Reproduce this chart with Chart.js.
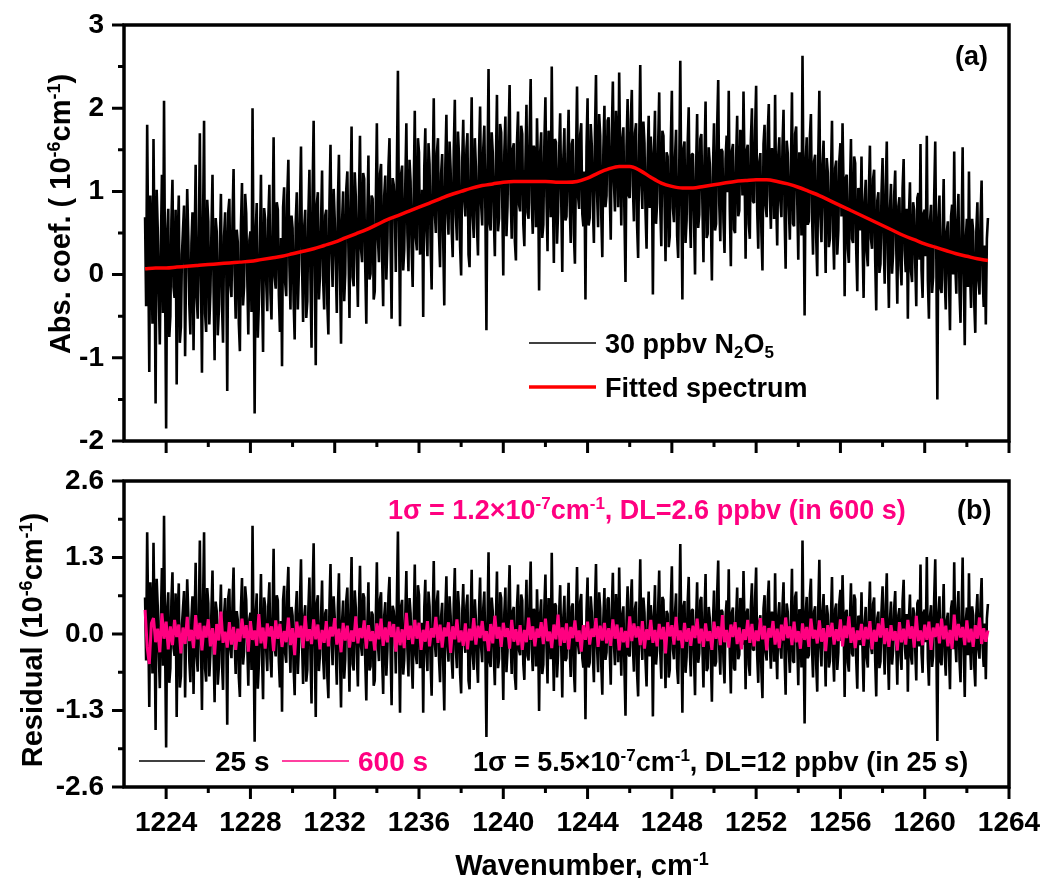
<!DOCTYPE html>
<html>
<head>
<meta charset="utf-8">
<script src="https://cdn.jsdelivr.net/npm/chart.js@4.4.1/dist/chart.umd.min.js"></script>
<style>
  body { margin: 0; background: #fff; }
  #wrap { position: relative; width: 1047px; height: 878px; }
  #wrap canvas { position: absolute; left: 0; }
</style>
</head>
<body>
<div id="wrap">
  <canvas id="specChart" width="1047" height="455" style="top:0"></canvas>
  <canvas id="residChart" width="1047" height="423" style="top:455px"></canvas>
</div>
<script>
// sampling grids (cm-1): measured spectrum / 25 s residual, 600 s residual, fit
const WN_START = 1223, WN_STEP = 0.05;
const AVG_START = 1223, AVG_STEP = 0.1;
const FIT_START = 1223, FIT_STEP = 0.5;

// tick values
const xMajorTicks = [1224, 1228, 1232, 1236, 1240, 1244, 1248, 1252, 1256, 1260, 1264];
const xMinorTicks = [1226, 1230, 1234, 1238, 1242, 1246, 1250, 1254, 1258, 1262];
const absTicks = [-2, -1, 0, 1, 2, 3];
const absMinorTicks = [-1.5, -0.5, 0.5, 1.5, 2.5];
const residTicks = [-2.6, -1.3, 0, 1.3, 2.6];
const residMinorTicks = [-1.95, -0.65, 0.65, 1.95];

// absorption coefficient, 30 ppbv N2O5 (1e-6 cm-1), one row per 2 cm-1
const spectrum = [
  0.69, -0.38, 1.80, 0.28, -1.17, 0.95, 0.43, -0.59, 1.63, 0.20, -1.55, 1.02, 0.56, -0.23, -0.84, 0.34, 1.20, -0.46, 2.09, -0.10, -1.85, 0.50, 0.79, -0.75, -0.50, 0.65, 1.14, -0.15, -0.28, 0.78, -1.32, 0.42, 0.95, -0.82, -0.63, 0.24, 0.54, 0.83, -0.98, 0.18,
  1.03, 0.46, -0.36, -0.72, 0.37, 0.75, -0.91, 0.28, 1.32, -0.27, -0.53, 0.40, 1.70, 0.01, -1.18, 0.59, 1.85, -0.47, -0.69, 0.90, 0.64, -0.60, -0.21, 0.53, 1.20, -0.14, -1.03, 0.68, 0.52, -0.73, -0.44, 0.36, 0.97, -0.36, -0.82, 0.46, 0.75, 0.20, -1.40, 0.76,
  0.91, -0.12, -0.27, 0.67, 1.27, 0.00, -0.53, 0.54, 0.39, -0.59, -0.92, 0.59, 1.10, -0.37, -0.14, 0.97, 0.74, -0.03, -0.72, 0.41, 0.52, -0.45, 2.00, 0.09, -1.67, 0.51, 0.86, -0.76, -0.35, 0.35, 1.20, -0.18, -0.93, 0.80, 0.66, -0.09, -0.44, 0.68, 1.08, -0.22,
  -0.54, 0.51, 1.65, -0.03, -0.17, 0.87, 0.78, -0.25, -0.69, 0.44, -1.10, 0.81, 1.05, -0.10, -0.26, 0.95, 1.38, 0.12, -0.42, 0.71, 0.56, -0.32, -0.78, 0.63, 0.99, -0.42, 0.05, 0.81, 1.54, 0.12, -0.57, 0.56, 0.78, -0.52, -0.32, 0.72, 1.26, -0.06, -0.88, 0.99,
  1.85, 0.12, -1.09, 0.84, 0.99, -0.30, -0.01, 0.61, 1.25, -0.06, -0.42, 0.71, 0.78, -0.36, -0.72, 0.85, 1.56, 0.30, -0.15, 1.03, 0.67, 0.11, -0.46, 0.86, 1.44, 0.05, -0.83, 0.64, 1.00, -0.32, 0.01, 1.03, 1.24, 0.32, -0.52, 0.86, 1.78, -0.03, -0.14, 1.23,
  0.94, 0.17, -0.39, 0.93, 1.67, 0.31, 0.15, 1.22, 1.15, 0.07, -0.59, 0.71, 1.43, -0.06, 0.01, 0.95, 0.91, -0.30, -0.20, 0.85, 1.82, 0.44, 0.15, 1.21, 1.33, 0.19, -0.38, 0.95, 1.19, -0.06, 0.38, 1.29, 1.64, 0.42, -0.53, 1.16, 1.08, 0.82, 0.03, 1.26,
  2.45, 0.64, -0.62, 1.20, 1.31, 0.05, 0.30, 1.08, 1.82, 0.50, 0.04, 1.38, 1.12, 0.33, -0.15, 1.01, 1.97, 0.44, 0.29, 1.64, 1.47, 0.24, 0.56, 1.02, -0.51, 1.28, 1.76, 0.54, 0.22, 1.58, 1.33, 0.38, -0.18, 1.15, 2.12, 0.75, 0.50, 1.46, 1.64, 0.48,
  0.09, 1.21, 1.45, 0.39, -0.37, 1.31, 1.92, 0.77, 0.48, 1.60, 1.27, 0.55, 0.21, 1.49, 2.10, 0.72, 0.41, 1.72, 1.42, 0.34, -0.01, 1.35, 1.86, 0.90, 0.70, 1.51, 1.70, 0.24, 0.09, 1.30, 2.13, 0.70, 0.44, 1.64, 1.30, 0.59, 0.23, 1.47, 2.02, 0.84,
  0.59, 1.51, 1.79, 0.77, -0.67, 1.26, 2.47, 0.62, 0.53, 1.71, 1.47, 0.70, 0.22, 1.35, 2.16, 0.52, 0.68, 1.81, 1.71, 0.89, -0.01, 1.47, 1.90, 0.46, 0.82, 1.64, 2.28, 0.97, 0.43, 1.51, 1.58, 0.40, 0.17, 1.58, 1.96, 0.84, 0.76, 1.79, 1.69, 0.61,
  0.34, 1.33, 2.04, 0.75, 0.67, 1.70, 2.35, 0.86, 0.49, 1.55, 1.46, 0.57, 1.88, 1.24, -0.19, 1.46, 1.71, 0.44, 0.60, 1.59, 2.13, 0.93, 0.28, 1.73, 1.39, 0.69, 2.50, 1.02, 0.14, 1.63, 1.59, 0.37, 0.75, 1.46, 1.94, 0.90, 0.03, 1.39, 1.76, 0.65,
  0.70, 1.44, 1.98, 0.87, 0.38, 1.57, 1.63, 0.49, 0.13, 1.39, 2.26, 0.94, 0.79, 1.68, 1.82, 0.73, 0.58, 1.24, -0.30, 1.53, 2.12, 0.59, 0.68, 1.81, 1.55, 0.83, 0.38, 1.68, 2.40, 0.98, 0.57, 1.93, 1.67, 0.71, 0.21, 1.50, 2.03, 0.81, 0.95, 1.85,
  1.89, 1.00, 0.42, 1.69, 2.32, 1.12, 0.76, 1.97, 1.58, 0.81, 2.43, 1.35, 0.59, 1.62, 1.77, 0.71, -0.09, 1.54, 2.11, 0.95, 0.92, 1.86, 2.22, 1.06, 0.64, 1.70, 1.82, 0.59, 0.20, 1.56, 2.52, 1.11, 0.79, 1.84, 1.58, 0.76, 0.31, 1.38, 1.91, 0.80,
  1.66, 1.32, -0.24, 1.43, 1.97, 0.61, 0.86, 1.56, 2.19, 0.80, 0.34, 1.73, 1.67, 0.92, 0.16, 1.47, 1.42, 0.33, 0.46, 1.58, 2.21, 0.80, 0.63, 1.40, 1.74, 0.47, 0.20, 1.26, 2.57, 0.93, -0.30, 1.51, 1.60, 0.38, 0.65, 1.57, 2.01, 0.75, 0.32, 1.45,
  1.45, 0.68, 0.00, 1.27, 1.93, 0.56, 0.72, 1.63, 1.69, 0.85, 0.15, 1.40, 2.08, 0.44, 0.49, 1.53, 1.33, 0.70, -0.07, 1.27, 1.82, 0.53, 0.61, 1.77, 2.34, 0.85, 0.40, 1.51, 1.48, 0.63, 0.26, 1.39, 1.67, 0.99, 2.21, 0.78, 0.10, 1.49, 1.57, 0.54,
  0.50, 1.40, 1.91, 0.70, 0.77, 1.74, 1.64, 0.95, 2.20, 1.28, 0.19, 1.49, 1.56, 0.61, 0.43, 1.62, 2.00, 0.88, 0.86, 1.73, 2.27, 0.77, 0.31, 1.35, 1.46, 0.50, 0.05, 1.57, 1.80, 0.83, 0.69, 1.70, 2.05, 0.95, 0.55, 1.52, 1.37, 0.67, 2.16, 0.91,
  0.35, 1.43, 1.65, 0.88, 0.69, 1.55, 1.98, 0.71, 0.07, 1.61, 1.46, 0.81, 0.42, 1.27, 2.19, 0.61, 0.58, 1.69, 1.78, 0.91, 0.18, 1.47, 1.33, 0.47, 2.63, 0.97, -0.49, 1.35, 1.65, 0.60, 0.64, 1.66, 1.93, 0.74, 0.24, 1.36, 1.44, 0.44, -0.02, 1.43,
  2.21, 0.70, 0.39, 1.31, 1.61, 0.76, 0.02, 1.40, 1.23, 0.33, 0.43, 1.17, 1.85, 0.52, 0.06, 1.28, 1.37, 0.24, 0.53, 1.38, 1.58, 0.70, 1.82, 1.02, -0.26, 1.16, 1.20, 0.31, 0.14, 1.03, 1.63, 0.43, 0.38, 1.42, 1.34, 0.30, -0.20, 1.04, 0.99, 0.53,
  1.42, 0.41, -0.28, 0.87, 1.14, 0.27, 0.10, 1.01, 1.55, 0.43, 0.31, 1.15, 1.26, 0.17, -0.43, 0.89, 0.99, 0.02, 0.13, 0.98, 1.40, 0.43, -0.11, 1.05, 1.60, 0.25, -0.40, 0.78, 1.09, 0.01, 0.25, 0.95, 1.25, 0.32, -0.35, 0.82, 0.93, 0.11, -0.13, 1.03,
  1.39, 0.29, 0.03, 0.79, -0.53, 0.70, 1.11, 0.04, -0.09, 0.87, 0.77, 0.13, -0.38, 0.92, 0.98, 0.18, 1.57, 0.05, -0.28, 0.74, 0.78, 0.22, 1.67, -0.07, -0.53, 0.64, 0.84, -0.22, -0.03, 0.94, 1.60, 0.24, -1.50, 0.65, 0.95, -0.16, -0.22, 0.52, 1.15, -0.06,
  -0.42, 0.52, 0.64, -0.03, -0.67, 0.70, 0.84, 0.00, 1.48, 0.13, -0.23, 0.63, 0.97, -0.20, -0.58, 0.52, 1.53, 0.03, -0.85, 0.43, 0.67, -0.15, 1.24, 0.06, -0.40, 0.67, 0.52, -0.33, -0.70, 0.53, 0.87, -0.08, -0.24, 0.69, 1.13, -0.05, -0.39, 0.35, -0.60, 0.43,
  0.68
];

// fitted spectrum, every 0.5 cm-1
const fitted = [
  0.07, 0.08, 0.08, 0.09, 0.10, 0.11, 0.12, 0.13, 0.14, 0.15,
  0.16, 0.18, 0.20, 0.22, 0.25, 0.28, 0.31, 0.35, 0.39, 0.44,
  0.49, 0.54, 0.60, 0.66, 0.71, 0.76, 0.81, 0.86, 0.91, 0.96,
  1.00, 1.04, 1.07, 1.09, 1.11, 1.12, 1.12, 1.12, 1.12, 1.11,
  1.11, 1.12, 1.16, 1.22, 1.27, 1.30, 1.30, 1.25, 1.17, 1.10,
  1.06, 1.04, 1.04, 1.06, 1.08, 1.10, 1.12, 1.13, 1.14, 1.14,
  1.12, 1.09, 1.05, 1.00, 0.95, 0.89, 0.83, 0.77, 0.71, 0.65,
  0.59, 0.53, 0.47, 0.42, 0.37, 0.33, 0.29, 0.25, 0.22, 0.19,
  0.17
];

// fit residual, 25 s average, one row per 2 cm-1
const resid25 = [
  0.62, -0.45, 1.73, 0.21, -1.24, 0.88, 0.35, -0.67, 1.55, 0.12, -1.63, 0.94, 0.48, -0.31, -0.92, 0.26, 1.12, -0.54, 2.01, -0.18, -1.93, 0.42, 0.71, -0.83, -0.58, 0.57, 1.05, -0.24, -0.37, 0.69, -1.41, 0.33, 0.86, -0.91, -0.72, 0.15, 0.44, 0.73, -1.08, 0.08,
  0.93, 0.36, -0.46, -0.82, 0.27, 0.64, -1.02, 0.17, 1.21, -0.38, -0.64, 0.29, 1.59, -0.11, -1.29, 0.47, 1.73, -0.59, -0.81, 0.78, 0.52, -0.72, -0.33, 0.41, 1.08, -0.27, -1.16, 0.55, 0.39, -0.86, -0.57, 0.23, 0.84, -0.49, -0.95, 0.32, 0.61, 0.06, -1.54, 0.62,
  0.77, -0.26, -0.41, 0.53, 1.13, -0.15, -0.68, 0.39, 0.24, -0.74, -1.07, 0.44, 0.95, -0.52, -0.29, 0.81, 0.58, -0.19, -0.88, 0.25, 0.36, -0.61, 1.84, -0.07, -1.83, 0.34, 0.69, -0.93, -0.52, 0.18, 1.02, -0.36, -1.11, 0.62, 0.47, -0.28, -0.63, 0.49, 0.88, -0.42,
  -0.74, 0.31, 1.45, -0.24, -0.38, 0.66, 0.57, -0.47, -0.91, 0.22, -1.32, 0.58, 0.82, -0.33, -0.49, 0.71, 1.14, -0.12, -0.66, 0.46, 0.31, -0.57, -1.04, 0.37, 0.73, -0.68, -0.22, 0.54, 1.27, -0.15, -0.85, 0.28, 0.49, -0.81, -0.61, 0.43, 0.96, -0.36, -1.18, 0.69,
  1.54, -0.19, -1.41, 0.52, 0.66, -0.63, -0.34, 0.27, 0.91, -0.41, -0.77, 0.35, 0.42, -0.72, -1.09, 0.48, 1.19, -0.08, -0.53, 0.64, 0.28, -0.29, -0.86, 0.45, 1.03, -0.37, -1.25, 0.21, 0.57, -0.76, -0.43, 0.58, 0.79, -0.14, -0.98, 0.39, 1.31, -0.51, -0.62, 0.74,
  0.45, -0.33, -0.89, 0.42, 1.16, -0.21, -0.37, 0.69, 0.62, -0.47, -1.13, 0.16, 0.88, -0.62, -0.55, 0.38, 0.33, -0.88, -0.79, 0.26, 1.22, -0.17, -0.46, 0.59, 0.71, -0.44, -1.02, 0.31, 0.54, -0.71, -0.28, 0.63, 0.97, -0.25, -1.21, 0.48, 0.39, 0.12, -0.67, 0.55,
  1.74, -0.08, -1.34, 0.47, 0.58, -0.69, -0.44, 0.33, 1.07, -0.26, -0.72, 0.61, 0.35, -0.45, -0.93, 0.22, 1.18, -0.36, -0.51, 0.83, 0.66, -0.58, -0.26, 0.19, -1.34, 0.44, 0.92, -0.31, -0.63, 0.72, 0.47, -0.49, -1.05, 0.27, 1.24, -0.14, -0.39, 0.56, 0.74, -0.43,
  -0.82, 0.29, 0.53, -0.54, -1.30, 0.37, 0.98, -0.18, -0.47, 0.64, 0.31, -0.42, -0.76, 0.51, 1.12, -0.27, -0.58, 0.73, 0.43, -0.66, -1.01, 0.34, 0.85, -0.12, -0.32, 0.48, 0.67, -0.79, -0.94, 0.26, 1.09, -0.35, -0.61, 0.59, 0.25, -0.47, -0.83, 0.41, 0.96, -0.23,
  -0.48, 0.44, 0.72, -0.31, -1.75, 0.18, 1.39, -0.47, -0.56, 0.62, 0.38, -0.39, -0.87, 0.25, 1.06, -0.58, -0.42, 0.71, 0.61, -0.22, -1.12, 0.36, 0.79, -0.65, -0.29, 0.53, 1.17, -0.14, -0.68, 0.39, 0.46, -0.72, -0.95, 0.46, 0.84, -0.28, -0.36, 0.67, 0.57, -0.51,
  -0.78, 0.21, 0.92, -0.37, -0.45, 0.58, 1.23, -0.26, -0.63, 0.43, 0.34, -0.55, 0.76, 0.12, -1.31, 0.34, 0.59, -0.68, -0.52, 0.47, 1.01, -0.19, -0.84, 0.61, 0.27, -0.43, 1.38, -0.09, -0.97, 0.52, 0.48, -0.74, -0.36, 0.35, 0.83, -0.21, -1.08, 0.28, 0.65, -0.46,
  -0.41, 0.33, 0.87, -0.24, -0.73, 0.46, 0.52, -0.62, -0.99, 0.27, 1.14, -0.18, -0.34, 0.55, 0.68, -0.41, -0.57, 0.09, -1.45, 0.38, 0.96, -0.57, -0.49, 0.64, 0.37, -0.36, -0.82, 0.48, 1.19, -0.23, -0.65, 0.71, 0.44, -0.52, -1.03, 0.26, 0.78, -0.44, -0.31, 0.59,
  0.62, -0.27, -0.86, 0.41, 1.04, -0.16, -0.53, 0.68, 0.29, -0.48, 1.13, 0.05, -0.71, 0.32, 0.47, -0.59, -1.39, 0.24, 0.81, -0.35, -0.38, 0.57, 0.93, -0.22, -0.64, 0.43, 0.55, -0.67, -1.06, 0.31, 1.27, -0.13, -0.44, 0.62, 0.36, -0.45, -0.89, 0.19, 0.72, -0.38,
  0.49, 0.16, -1.40, 0.28, 0.83, -0.52, -0.27, 0.44, 1.08, -0.31, -0.76, 0.63, 0.58, -0.17, -0.92, 0.39, 0.34, -0.74, -0.61, 0.51, 1.15, -0.26, -0.43, 0.35, 0.69, -0.58, -0.85, 0.22, 1.53, -0.11, -1.34, 0.47, 0.56, -0.66, -0.39, 0.53, 0.97, -0.29, -0.72, 0.41,
  0.41, -0.36, -1.04, 0.22, 0.88, -0.49, -0.33, 0.57, 0.63, -0.21, -0.91, 0.34, 1.02, -0.63, -0.58, 0.46, 0.26, -0.38, -1.15, 0.19, 0.74, -0.55, -0.47, 0.68, 1.25, -0.24, -0.69, 0.41, 0.38, -0.47, -0.84, 0.29, 0.57, -0.12, 1.10, -0.33, -1.01, 0.37, 0.45, -0.58,
  -0.62, 0.27, 0.79, -0.43, -0.35, 0.61, 0.51, -0.18, 1.07, 0.15, -0.94, 0.36, 0.43, -0.52, -0.71, 0.48, 0.86, -0.26, -0.28, 0.59, 1.13, -0.37, -0.83, 0.21, 0.32, -0.64, -1.09, 0.43, 0.66, -0.31, -0.45, 0.56, 0.91, -0.19, -0.59, 0.38, 0.24, -0.47, 1.03, -0.22,
  -0.77, 0.31, 0.54, -0.23, -0.42, 0.45, 0.88, -0.39, -1.03, 0.52, 0.37, -0.28, -0.66, 0.19, 1.11, -0.46, -0.49, 0.63, 0.72, -0.14, -0.87, 0.42, 0.29, -0.57, 1.59, -0.06, -1.52, 0.33, 0.63, -0.41, -0.36, 0.66, 0.94, -0.25, -0.74, 0.38, 0.47, -0.53, -0.98, 0.47,
  1.26, -0.24, -0.55, 0.38, 0.68, -0.16, -0.89, 0.49, 0.33, -0.57, -0.46, 0.28, 0.97, -0.35, -0.81, 0.42, 0.52, -0.61, -0.31, 0.54, 0.75, -0.12, 1.00, 0.21, -1.07, 0.36, 0.41, -0.48, -0.64, 0.25, 0.86, -0.33, -0.38, 0.67, 0.59, -0.44, -0.93, 0.31, 0.27, -0.19,
  0.71, -0.29, -0.98, 0.18, 0.46, -0.41, -0.57, 0.35, 0.89, -0.22, -0.34, 0.51, 0.62, -0.46, -1.06, 0.27, 0.38, -0.58, -0.47, 0.39, 0.81, -0.15, -0.69, 0.48, 1.03, -0.31, -0.95, 0.24, 0.55, -0.52, -0.28, 0.43, 0.73, -0.19, -0.86, 0.32, 0.44, -0.37, -0.61, 0.56,
  0.92, -0.17, -0.43, 0.34, -0.98, 0.26, 0.67, -0.39, -0.52, 0.45, 0.35, -0.28, -0.79, 0.52, 0.58, -0.21, 1.18, -0.33, -0.66, 0.37, 0.41, -0.14, 1.31, -0.42, -0.88, 0.29, 0.49, -0.56, -0.37, 0.61, 1.27, -0.08, -1.82, 0.33, 0.64, -0.47, -0.53, 0.22, 0.85, -0.35,
  -0.71, 0.24, 0.36, -0.31, -0.94, 0.43, 0.57, -0.26, 1.22, -0.12, -0.48, 0.38, 0.73, -0.44, -0.82, 0.29, 1.30, -0.19, -1.07, 0.21, 0.45, -0.36, 1.03, -0.15, -0.61, 0.47, 0.32, -0.53, -0.89, 0.34, 0.68, -0.27, -0.42, 0.51, 0.95, -0.23, -0.56, 0.18, -0.77, 0.26,
  0.51
];

// fit residual, 600 s average, one row per 2 cm-1
const resid600 = [
  0.41, -0.22, -0.51, 0.18, 0.27, -0.14, 0.09, -0.31, 0.35, -0.08, 0.21, -0.26, 0.13, -0.19, 0.24, -0.05, 0.16, -0.33, 0.11, -0.17,
  0.29, -0.12, 0.07, -0.24, 0.32, -0.09, 0.19, -0.28, 0.14, -0.06, 0.25, -0.21, 0.10, -0.35, 0.17, -0.11, 0.38, -0.15, 0.04, -0.23,
  0.20, -0.18, 0.12, -0.27, 0.09, -0.13, 0.26, -0.07, 0.15, -0.30, 0.22, -0.10, 0.06, -0.20, 0.34, -0.16, 0.11, -0.25, 0.18, -0.04,
  0.13, -0.29, 0.23, -0.08, 0.17, -0.22, 0.05, -0.14, 0.28, -0.19, 0.10, -0.36, 0.21, -0.06, 0.14, -0.24, 0.31, -0.12, 0.08, -0.17,
  0.25, -0.09, 0.16, -0.26, 0.07, -0.15, 0.22, -0.21, 0.12, -0.04, 0.27, -0.18, 0.09, -0.31, 0.19, -0.11, 0.14, -0.23, 0.06, -0.13,
  0.30, -0.16, 0.10, -0.07, 0.23, -0.25, 0.15, -0.12, 0.05, -0.28, 0.18, -0.09, 0.26, -0.20, 0.11, -0.14, 0.21, -0.05, 0.17, -0.30,
  0.12, -0.19, 0.08, -0.24, 0.36, -0.10, 0.14, -0.17, 0.24, -0.08, 0.19, -0.27, 0.07, -0.13, 0.22, -0.21, 0.10, -0.06, 0.29, -0.15,
  0.16, -0.23, 0.11, -0.04, 0.20, -0.32, 0.13, -0.09, 0.25, -0.14, 0.06, -0.20, 0.18, -0.26, 0.09, -0.11, 0.27, -0.18, 0.14, -0.07,
  0.22, -0.12, 0.05, -0.29, 0.17, -0.16, 0.31, -0.08, 0.12, -0.22, 0.19, -0.05, 0.10, -0.25, 0.24, -0.13, 0.08, -0.19, 0.15, -0.27,
  0.07, -0.14, 0.28, -0.10, 0.13, -0.21, 0.09, -0.06, 0.20, -0.17, 0.26, -0.12, 0.04, -0.24, 0.16, -0.09, 0.33, -0.20, 0.11, -0.15,
  0.18, -0.26, 0.12, -0.07, 0.23, -0.13, 0.06, -0.30, 0.15, -0.10, 0.21, -0.18, 0.09, -0.05, 0.27, -0.22, 0.14, -0.11, 0.19, -0.16,
  0.10, -0.20, 0.25, -0.08, 0.16, -0.28, 0.11, -0.14, 0.05, -0.23, 0.30, -0.12, 0.18, -0.06, 0.13, -0.19, 0.22, -0.25, 0.08, -0.10,
  0.24, -0.15, 0.07, -0.21, 0.17, -0.09, 0.12, -0.33, 0.20, -0.04, 0.15, -0.18, 0.29, -0.11, 0.06, -0.24, 0.19, -0.13, 0.10, -0.20,
  0.14, -0.07, 0.26, -0.16, 0.09, -0.22, 0.18, -0.12, 0.05, -0.27, 0.21, -0.08, 0.13, -0.19, 0.32, -0.14, 0.07, -0.23, 0.16, -0.05,
  0.20, -0.17, 0.11, -0.26, 0.08, -0.10, 0.24, -0.15, 0.17, -0.21, 0.06, -0.12, 0.27, -0.09, 0.14, -0.28, 0.10, -0.06, 0.22, -0.18,
  0.09, -0.24, 0.16, -0.11, 0.28, -0.07, 0.13, -0.19, 0.21, -0.14, 0.05, -0.25, 0.18, -0.10, 0.12, -0.22, 0.26, -0.08, 0.07, -0.16,
  0.23, -0.13, 0.10, -0.29, 0.15, -0.05, 0.19, -0.18, 0.08, -0.12, 0.25, -0.21, 0.14, -0.07, 0.30, -0.15, 0.11, -0.24, 0.06, -0.10,
  0.17, -0.20, 0.12, -0.09, 0.22, -0.26, 0.07, -0.13, 0.18, -0.06, 0.27, -0.17, 0.10, -0.22, 0.15, -0.11, 0.05, -0.28, 0.20, -0.14,
  0.09, -0.18, 0.24, -0.08, 0.13, -0.23, 0.31, -0.12, 0.06, -0.19, 0.16, -0.10, 0.21, -0.27, 0.11, -0.05, 0.18, -0.16, 0.26, -0.09,
  0.14, -0.21, 0.07, -0.25, 0.33, -0.11, 0.17, -0.06, 0.12, -0.19, 0.23, -0.14, 0.09, -0.22, 0.15, -0.08, 0.28, -0.17, 0.10, -0.13,
  0.06
];

const FONT = "'Liberation Sans', Arial, Helvetica, sans-serif";
const PINK = '#ff0080';
const RED = '#ff0000';

Chart.defaults.font.family = FONT;
Chart.defaults.font.weight = 'bold';
Chart.defaults.color = '#000';

const grid = (n, start, step) => Array.from({ length: n }, (_, i) => +(start + i * step).toFixed(2));
const wavenumbers = grid(spectrum.length, WN_START, WN_STEP);
const avgWavenumbers = grid(resid600.length, AVG_START, AVG_STEP);
const fitWavenumbers = grid(fitted.length, FIT_START, FIT_STEP);

function toPoints(xs, ys) {
  return ys.map((y, i) => ({ x: xs[i], y: y }));
}

// text with super/subscript parts; y is the baseline
function drawRich(ctx, t) {
  const size = t.size || 27;
  const font = s => 'bold ' + s + 'px ' + FONT;
  let width = 0;
  const items = t.parts.map(p => {
    const kind = p[1] || '';
    const s = kind ? Math.round(size * 0.62) : size;
    ctx.font = font(s);
    const w = ctx.measureText(p[0]).width;
    width += w;
    return { text: p[0], kind: kind, s: s, w: w };
  });
  ctx.save();
  ctx.translate(t.x, t.y);
  if (t.rotate) ctx.rotate(t.rotate);
  ctx.fillStyle = t.color || '#000';
  ctx.textBaseline = 'alphabetic';
  ctx.textAlign = 'left';
  let cx = t.align === 'center' ? -width / 2 : 0;
  items.forEach(it => {
    ctx.font = font(it.s);
    const dy = it.kind === 'sup' ? -size * 0.36 : it.kind === 'sub' ? size * 0.2 : 0;
    ctx.fillText(it.text, cx, dy);
    cx += it.w;
  });
  ctx.restore();
}

// axes box, outward ticks, legend keys and labels
function framePlugin(cfg) {
  return {
    id: 'frame',
    afterDraw(chart) {
      const { ctx, chartArea: a, scales: { x, y } } = chart;
      ctx.save();
      ctx.strokeStyle = '#000';
      ctx.lineWidth = 3.5;
      ctx.strokeRect(a.left, a.top, a.right - a.left, a.bottom - a.top);
      ctx.lineWidth = 3;
      ctx.beginPath();
      const xt = (vals, len) => vals.forEach(v => {
        const px = x.getPixelForValue(v);
        ctx.moveTo(px, a.bottom);
        ctx.lineTo(px, a.bottom + len);
      });
      const yt = (vals, len) => vals.forEach(v => {
        const py = y.getPixelForValue(v);
        ctx.moveTo(a.left, py);
        ctx.lineTo(a.left - len, py);
      });
      xt(xMajorTicks, 12);
      xt(xMinorTicks, 6);
      yt(cfg.yMajor, 12);
      yt(cfg.yMinor, 6);
      ctx.stroke();

      cfg.keys.forEach(k => {
        ctx.beginPath();
        ctx.strokeStyle = k.color;
        ctx.lineWidth = k.width;
        ctx.moveTo(k.x1, k.y);
        ctx.lineTo(k.x2, k.y);
        ctx.stroke();
      });
      cfg.texts.forEach(t => drawRich(ctx, t));
      ctx.restore();
    }
  };
}

// tick labels are offset with an invisible tick length, so that ticks.padding
// does not push the plot area inwards
function axisOptions(ticks, offset, opts) {
  return Object.assign({
    type: 'linear',
    afterBuildTicks: s => { s.ticks = ticks.map(v => ({ value: v })); },
    grid: { display: false, drawTicks: true, tickLength: offset },
    border: { display: false }
  }, opts);
}

const traceStyle = { pointRadius: 0, borderJoinStyle: 'bevel', borderCapStyle: 'butt' };

// (a) absorption spectrum with its fit
new Chart(document.getElementById('specChart'), {
  type: 'line',
  data: {
    datasets: [
      {
        label: 'Fitted spectrum',
        data: toPoints(fitWavenumbers, fitted),
        borderColor: RED,
        borderWidth: 3.5,
        pointRadius: 0,
        cubicInterpolationMode: 'monotone',
        order: 0
      },
      Object.assign({
        label: '30 ppbv N2O5',
        data: toPoints(wavenumbers, spectrum),
        borderColor: '#000',
        borderWidth: 2.6,
        order: 1
      }, traceStyle)
    ]
  },
  options: {
    responsive: false,
    animation: false,
    events: [],
    parsing: false,
    layout: { padding: { top: 25, right: 38, left: 0, bottom: 0 } },
    plugins: { legend: { display: false }, tooltip: { enabled: false } },
    scales: {
      x: axisOptions(xMajorTicks, 0, {
        min: 1222, max: 1264,
        ticks: { display: false, padding: 0 },
        afterFit: s => { s.height = 14; }
      }),
      y: axisOptions(absTicks, 20, {
        min: -2, max: 3,
        ticks: { padding: 0, font: { size: 28, lineHeight: 1 }, callback: v => String(v) },
        afterFit: s => { s.width = 124; }
      })
    }
  },
  plugins: [framePlugin({
    yMajor: absTicks,
    yMinor: absMinorTicks,
    keys: [
      { x1: 529, x2: 596, y: 343, color: '#000', width: 1.5 },
      { x1: 529, x2: 596, y: 387, color: RED, width: 3.5 }
    ],
    texts: [
      { x: 955, y: 65, parts: [['(a)']] },
      { x: 605, y: 353, parts: [['30 ppbv N'], ['2', 'sub'], ['O'], ['5', 'sub']] },
      { x: 605, y: 397, parts: [['Fitted spectrum']] },
      { x: 70, y: 214, size: 29, align: 'center', rotate: -Math.PI / 2,
        parts: [['Abs. coef. ( 10'], ['-6', 'sup'], ['cm'], ['-1', 'sup'], [')']] }
    ]
  })]
});

// (b) residuals for 25 s and 600 s averaging
new Chart(document.getElementById('residChart'), {
  type: 'line',
  data: {
    datasets: [
      Object.assign({
        label: '600 s',
        data: toPoints(avgWavenumbers, resid600),
        borderColor: PINK,
        borderWidth: 3,
        order: 0
      }, traceStyle),
      Object.assign({
        label: '25 s',
        data: toPoints(wavenumbers, resid25),
        borderColor: '#000',
        borderWidth: 2.6,
        order: 1
      }, traceStyle)
    ]
  },
  options: {
    responsive: false,
    animation: false,
    events: [],
    parsing: false,
    layout: { padding: { top: 26, right: 38, left: 0, bottom: 0 } },
    plugins: { legend: { display: false }, tooltip: { enabled: false } },
    scales: {
      x: axisOptions(xMajorTicks, 19, {
        min: 1222, max: 1264,
        ticks: { padding: 0, autoSkip: false, maxRotation: 0, font: { size: 28 }, callback: v => String(v) },
        afterFit: s => { s.height = 91; }
      }),
      y: axisOptions(residTicks, 20, {
        min: -2.6, max: 2.6,
        ticks: { padding: 0, font: { size: 28, lineHeight: 1 }, callback: v => v.toFixed(1) },
        afterFit: s => { s.width = 124; }
      })
    }
  },
  plugins: [framePlugin({
    yMajor: residTicks,
    yMinor: residMinorTicks,
    keys: [
      { x1: 139, x2: 205, y: 306, color: '#000', width: 1.5 },
      { x1: 282, x2: 349, y: 306, color: PINK, width: 1.5 }
    ],
    texts: [
      { x: 388, y: 64, color: PINK,
        parts: [['1\u03c3 = 1.2\u00d710'], ['-7', 'sup'], ['cm'], ['-1', 'sup'], [', DL=2.6 ppbv (in 600 s)']] },
      { x: 957, y: 64, parts: [['(b)']] },
      { x: 215, y: 316, size: 28, parts: [['25 s']] },
      { x: 358, y: 316, size: 28, color: PINK, parts: [['600 s']] },
      { x: 473, y: 316,
        parts: [['1\u03c3 = 5.5\u00d710'], ['-7', 'sup'], ['cm'], ['-1', 'sup'], [', DL=12 ppbv (in 25 s)']] },
      { x: 42, y: 185, size: 29, align: 'center', rotate: -Math.PI / 2,
        parts: [['Residual (10'], ['-6', 'sup'], ['cm'], ['-1', 'sup'], [')']] },
      { x: 582, y: 420, size: 29, align: 'center', parts: [['Wavenumber, cm'], ['-1', 'sup']] }
    ]
  })]
});
</script>
</body>
</html>
